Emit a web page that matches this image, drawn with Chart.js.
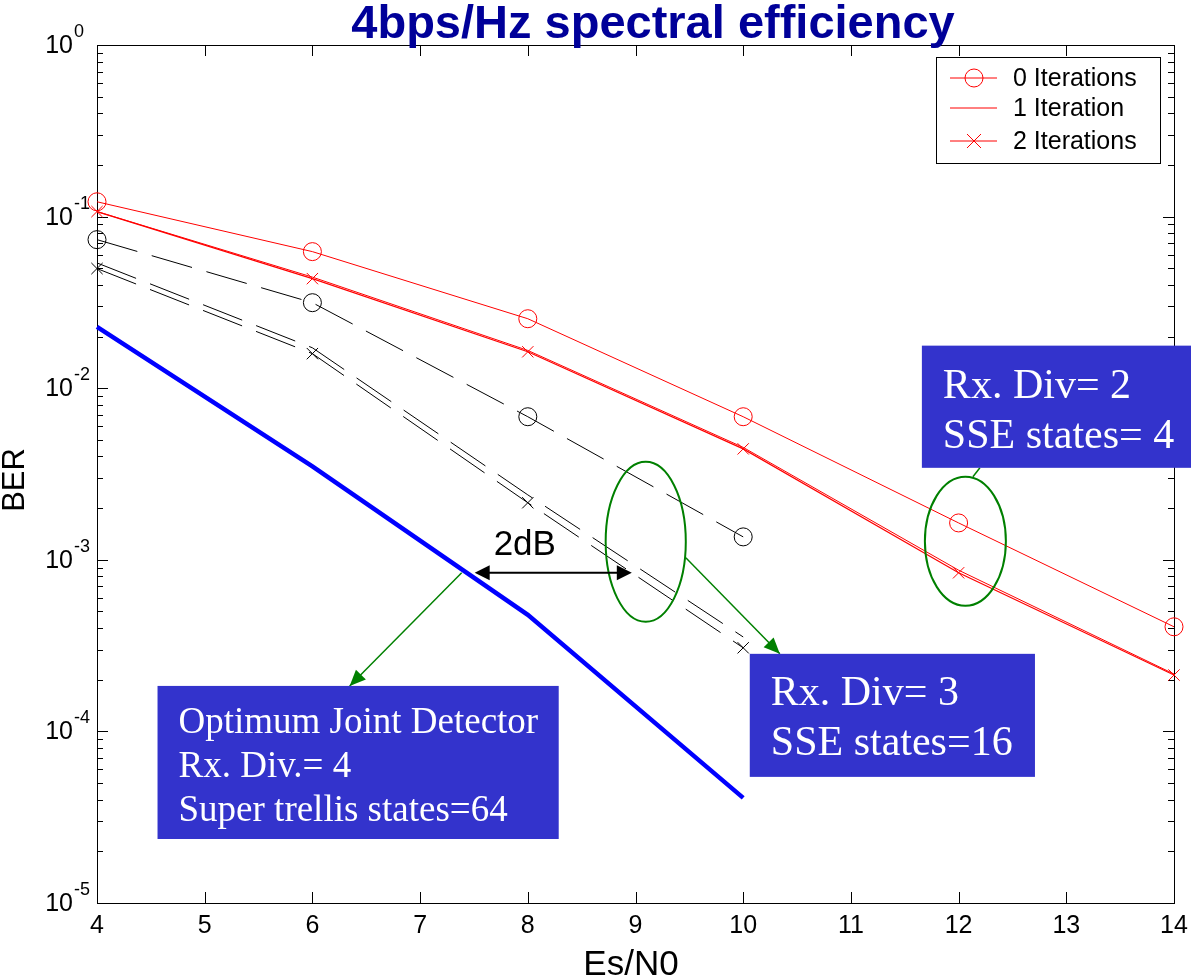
<!DOCTYPE html>
<html lang="en">
<head>
<meta charset="UTF-8">
<title>4bps/Hz spectral efficiency</title>
<script src="https://cdn.jsdelivr.net/npm/chart.js"></script>
<style>
  html, body { margin: 0; padding: 0; background: #fff; }
  #wrap { width: 1191px; height: 979px; }
</style>
</head>
<body>
<div id="wrap"><canvas id="berChart" width="1191" height="979"></canvas></div>
<script>
// Es/N0 points (dB)
const esN0 = [4, 6, 8, 10, 12, 14];

// Rx. Div = 2, SSE states = 4 (red)
const div2Iter0 = [0.122, 0.0625, 0.0254, 0.00682, 0.00164, 0.000407];
const div2Iter1 = [0.107, 0.0444, 0.0166, 0.00452, 0.00087, 0.000216];
const div2Iter2 = [0.107, 0.0435, 0.0163, 0.00443, 0.00084, 0.000213];

// Rx. Div = 3, SSE states = 16 (black dashed)
const div3Iter0 = [0.0734, 0.0315, 0.00682, 0.00136];
const div3Iter1 = [0.0537, 0.0172, 0.00239, 0.000355];
const div3Iter2 = [0.0498, 0.0159, 0.00215, 0.000307];

// Optimum joint detector, Rx. Div = 4 (blue)
const optimum = [0.0228, 0.0035, 0.000478, 0.000041];

const xTicks = [4, 5, 6, 7, 8, 9, 10, 11, 12, 13, 14];
const yDecades = [0, -1, -2, -3, -4, -5];
const legendLabels = ['0 Iterations', '1 Iteration', '2 Iterations'];

const pts = (ys) => ys.map((y, i) => ({ x: esN0[i], y }));

const RED = '#ff0000', GREEN = '#008000', BOX = '#3333cc';
const SANS = 'Arial, "Liberation Sans", sans-serif';
const SERIF = '"Times New Roman", "Liberation Serif", serif';

// annotations in data units (x in dB, y as log10 BER)
const ellipses = [
  { x: 9.095, l: -2.895, rx: 0.372, rl: 0.466 },
  { x: 12.063, l: -2.892, rx: 0.376, rl: 0.376 }
];
const greenArrows = [
  { from: [9.467, -2.988], to: [10.34, -3.548], head: true },
  { from: [7.386, -3.076], to: [6.346, -3.735], head: true },
  { from: [12.133, -2.516], to: [12.198, -2.464], head: false }
];
const boxes = [
  { x0: 11.659, x1: 14.16, l0: -1.752, l1: -2.464, size: 42, lines: ['Rx. Div= 2', 'SSE states= 4'], dy: [52, 102] },
  { x0: 10.061, x1: 12.709, l0: -3.548, l1: -4.265, size: 42, lines: ['Rx. Div= 3', 'SSE states=16'], dy: [51, 101] },
  { x0: 4.562, x1: 8.287, l0: -3.735, l1: -4.627, size: 37, lines: ['Optimum Joint Detector', 'Rx. Div.= 4', 'Super trellis states=64'], dy: [47, 91, 135] }
];

function arrowHead(ctx, x0, y0, x1, y1, len, half, color) {
  const a = Math.atan2(y1 - y0, x1 - x0);
  ctx.fillStyle = color;
  ctx.beginPath();
  ctx.moveTo(x1, y1);
  ctx.lineTo(x1 - len * Math.cos(a) + half * Math.sin(a), y1 - len * Math.sin(a) - half * Math.cos(a));
  ctx.lineTo(x1 - len * Math.cos(a) - half * Math.sin(a), y1 - len * Math.sin(a) + half * Math.cos(a));
  ctx.closePath();
  ctx.fill();
}

const matlabAxes = {
  id: 'matlabAxes',
  beforeDatasetsDraw(chart) {
    const { ctx, chartArea: a, scales: { x, y } } = chart;
    ctx.save();
    ctx.strokeStyle = '#000';
    ctx.lineWidth = 1;
    ctx.strokeRect(a.left + 0.5, a.top + 0.5, a.right - a.left, a.bottom - a.top);

    ctx.beginPath();
    xTicks.forEach(v => {
      const px = Math.round(x.getPixelForValue(v)) + 0.5;
      ctx.moveTo(px, a.bottom); ctx.lineTo(px, a.bottom - 11);
      ctx.moveTo(px, a.top); ctx.lineTo(px, a.top + 11);
    });
    yDecades.forEach(d => {
      const py = Math.round(y.getPixelForValue(Math.pow(10, d))) + 0.5;
      ctx.moveTo(a.left, py); ctx.lineTo(a.left + 11, py);
      ctx.moveTo(a.right, py); ctx.lineTo(a.right - 11, py);
      if (d < 0) {
        for (let m = 2; m <= 9; m++) {
          const pm = Math.round(y.getPixelForValue(m * Math.pow(10, d))) + 0.5;
          ctx.moveTo(a.left, pm); ctx.lineTo(a.left + 6, pm);
          ctx.moveTo(a.right, pm); ctx.lineTo(a.right - 6, pm);
        }
      }
    });
    ctx.stroke();

    ctx.fillStyle = '#000';
    ctx.font = '25px ' + SANS;
    ctx.textAlign = 'center';
    ctx.textBaseline = 'alphabetic';
    xTicks.forEach(v => ctx.fillText(String(v), x.getPixelForValue(v), 933));

    yDecades.forEach(d => {
      const py = y.getPixelForValue(Math.pow(10, d));
      ctx.font = '25px ' + SANS;
      ctx.textAlign = 'right';
      ctx.fillText('10', 73, py + 8);
      ctx.font = '18px ' + SANS;
      ctx.textAlign = 'left';
      ctx.fillText(d === 0 ? '0' : '-' + (-d), 74, py - 8);
    });

    ctx.font = '35px ' + SANS;
    ctx.textAlign = 'center';
    ctx.fillText('Es/N0', 631, 975);

    ctx.save();
    ctx.translate(24, 480);
    ctx.rotate(-Math.PI / 2);
    ctx.font = '31px ' + SANS;
    ctx.fillText('BER', 0, 0);
    ctx.restore();

    ctx.fillStyle = '#000099';
    ctx.font = 'bold 47px ' + SANS;
    ctx.fillText('4bps/Hz spectral efficiency', 653, 38);
    ctx.restore();
  },
  afterDatasetsDraw(chart) {
    const { ctx, chartArea: a, scales: { x, y } } = chart;
    const P = (v, l) => [x.getPixelForValue(v), y.getPixelForValue(Math.pow(10, l))];
    ctx.save();

    // green ellipses
    ctx.strokeStyle = GREEN;
    ctx.lineWidth = 2;
    ellipses.forEach(e => {
      const [cx, cy] = P(e.x, e.l);
      const rx = x.getPixelForValue(e.x + e.rx) - cx;
      const ry = cy - y.getPixelForValue(Math.pow(10, e.l + e.rl));
      ctx.beginPath();
      ctx.ellipse(cx, cy, rx, ry, 0, 0, Math.PI * 2);
      ctx.stroke();
    });

    // green arrows
    ctx.lineWidth = 1.5;
    greenArrows.forEach(g => {
      const [x0, y0] = P(g.from[0], g.from[1]);
      const [x1, y1] = P(g.to[0], g.to[1]);
      ctx.beginPath();
      ctx.moveTo(x0, y0); ctx.lineTo(x1, y1);
      ctx.stroke();
      if (g.head) arrowHead(ctx, x0, y0, x1, y1, 16, 7, GREEN);
    });

    // 2dB double arrow
    const [ax0, ay] = P(7.507, -3.076);
    const [ax1] = P(8.966, -3.076);
    ctx.strokeStyle = '#000';
    ctx.lineWidth = 2;
    ctx.beginPath();
    ctx.moveTo(ax0 + 10, ay); ctx.lineTo(ax1 - 10, ay);
    ctx.stroke();
    arrowHead(ctx, ax1, ay, ax0, ay, 15, 7.5, '#000');
    arrowHead(ctx, ax0, ay, ax1, ay, 15, 7.5, '#000');
    const [tx, tyb] = P(7.683, -2.971);
    ctx.fillStyle = '#000';
    ctx.font = '35px ' + SANS;
    ctx.textAlign = 'left';
    ctx.fillText('2dB', tx, tyb);

    // blue text boxes
    boxes.forEach(b => {
      const [bx0, by0] = P(b.x0, b.l0);
      const [bx1, by1] = P(b.x1, b.l1);
      ctx.fillStyle = BOX;
      ctx.fillRect(bx0, by0, bx1 - bx0, by1 - by0);
      ctx.fillStyle = '#ffffff';
      ctx.font = b.size + 'px ' + SERIF;
      b.lines.forEach((t, i) => ctx.fillText(t, bx0 + 21, by0 + b.dy[i]));
    });

    // legend
    const lx = a.right - 238, ly = a.top + 12, lw = 224, lh = 106;
    ctx.fillStyle = '#fff';
    ctx.fillRect(lx, ly, lw, lh);
    ctx.strokeStyle = '#000';
    ctx.lineWidth = 1;
    ctx.strokeRect(lx + 0.5, ly + 0.5, lw, lh);
    ctx.font = '25px ' + SANS;
    ctx.textBaseline = 'middle';
    const rows = [21, 51, 84];
    legendLabels.forEach((t, i) => {
      const ry = ly + rows[i];
      ctx.strokeStyle = RED;
      ctx.beginPath();
      ctx.moveTo(lx + 14, ry); ctx.lineTo(lx + 61, ry);
      if (i === 2) {
        ctx.moveTo(lx + 31, ry - 7); ctx.lineTo(lx + 45, ry + 7);
        ctx.moveTo(lx + 31, ry + 7); ctx.lineTo(lx + 45, ry - 7);
      }
      ctx.stroke();
      if (i === 0) {
        ctx.beginPath();
        ctx.arc(lx + 38, ry, 9, 0, Math.PI * 2);
        ctx.stroke();
      }
      ctx.fillStyle = '#000';
      ctx.fillText(t, lx + 77, ry + 1);
    });
    ctx.restore();
  }
};

const common = { fill: false, tension: 0, clip: false, pointHoverRadius: 0 };

new Chart(document.getElementById('berChart').getContext('2d'), {
  type: 'line',
  data: {
    datasets: [
      { ...common, label: 'div2 0 it', data: pts(div2Iter0), borderColor: RED, borderWidth: 1,
        pointStyle: 'circle', pointRadius: 9, pointBorderColor: RED, pointBackgroundColor: 'rgba(0,0,0,0)', pointBorderWidth: 1 },
      { ...common, label: 'div2 1 it', data: pts(div2Iter1), borderColor: RED, borderWidth: 1, pointRadius: 0 },
      { ...common, label: 'div2 2 it', data: pts(div2Iter2), borderColor: RED, borderWidth: 1.2,
        pointStyle: 'crossRot', pointRadius: 8, pointBorderColor: RED, pointBorderWidth: 1 },
      { ...common, label: 'div3 0 it', data: pts(div3Iter0), borderColor: '#000', borderWidth: 1, borderDash: [42, 15],
        pointStyle: 'circle', pointRadius: 9, pointBorderColor: '#000', pointBackgroundColor: 'rgba(0,0,0,0)', pointBorderWidth: 1 },
      { ...common, label: 'div3 1 it', data: pts(div3Iter1), borderColor: '#000', borderWidth: 1, borderDash: [42, 15], pointRadius: 0 },
      { ...common, label: 'div3 2 it', data: pts(div3Iter2), borderColor: '#000', borderWidth: 1, borderDash: [42, 15],
        pointStyle: 'crossRot', pointRadius: 8, pointBorderColor: '#000', pointBorderWidth: 1 },
      { ...common, label: 'optimum', data: pts(optimum), borderColor: '#0000ff', borderWidth: 4.5, pointRadius: 0 }
    ]
  },
  options: {
    responsive: false,
    animation: false,
    devicePixelRatio: 1,
    layout: { padding: { left: 97, top: 45, right: 17, bottom: 76 } },
    scales: {
      x: { type: 'linear', min: 4, max: 14, display: false },
      y: { type: 'logarithmic', min: 1e-5, max: 1, display: false }
    },
    plugins: { legend: { display: false }, tooltip: { enabled: false } }
  },
  plugins: [matlabAxes]
});
</script>
</body>
</html>
